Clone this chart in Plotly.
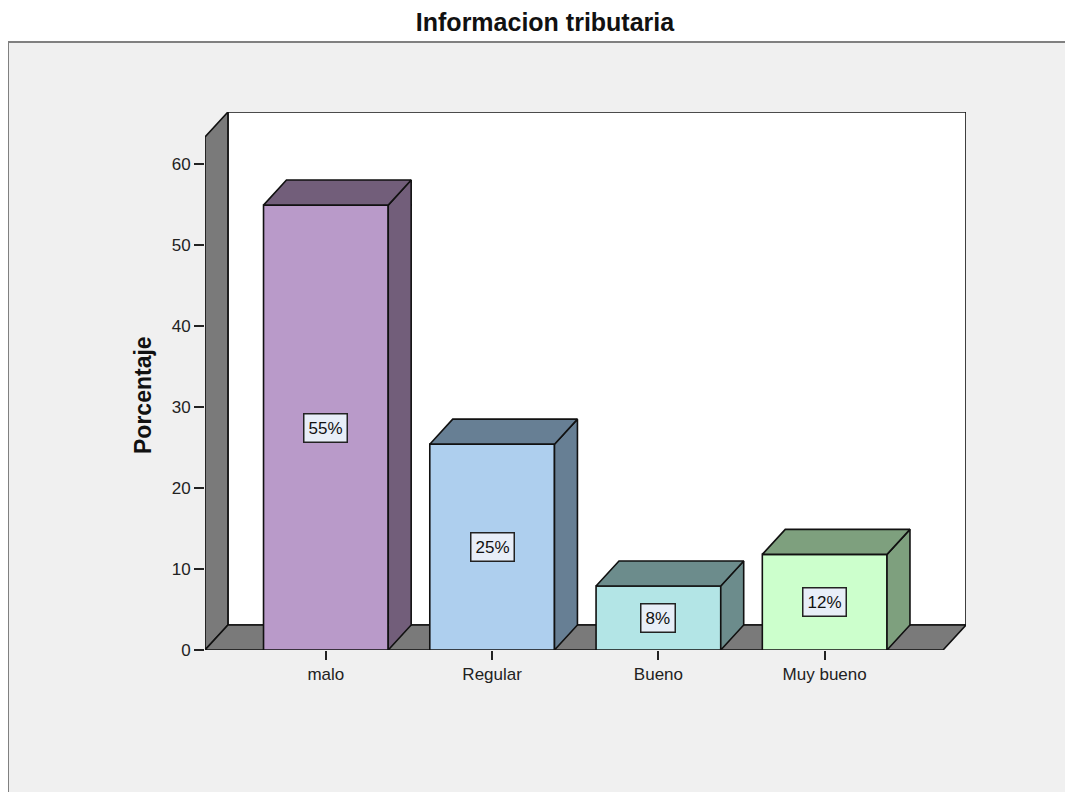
import plotly.graph_objects as go

# ---- data ----
categories = ["malo", "Regular", "Bueno", "Muy bueno"]
percentages = [54.9, 25.4, 7.9, 11.8]
labels = ["55%", "25%", "8%", "12%"]
y_ticks = [0, 10, 20, 30, 40, 50, 60]

front_colors = ["#B99AC9", "#AECFEE", "#B3E5E6", "#CCFFCC"]
shade_colors = ["#725E7A", "#677F94", "#6C8C8C", "#7EA07E"]

# ---- geometry settings ----
BAR_W = 0.75
DX = 0.138      # 3D depth (x, data units)
DY = 3.09       # 3D depth (y, data units)
X0, X1 = -0.727, 3.712
WALL_TOP = 63.3
WALL_COLOR = "#7A7A7A"
FONT = "Liberation Sans, Arial, sans-serif"

fig = go.Figure()

def poly(xs, ys, fill):
    fig.add_trace(go.Scatter(
        x=xs + [xs[0]], y=ys + [ys[0]], mode="lines", fill="toself",
        fillcolor=fill, line=dict(color="#111111", width=1.6),
        hoverinfo="skip", showlegend=False))

# back wall, left wall, floor
poly([X0 + DX, X1 + DX, X1 + DX, X0 + DX], [DY, DY, WALL_TOP + DY, WALL_TOP + DY], "#FFFFFF")
poly([X0, X0 + DX, X0 + DX, X0], [0, DY, WALL_TOP + DY, WALL_TOP], WALL_COLOR)
poly([X0, X1, X1 + DX, X0 + DX], [0, 0, DY, DY], WALL_COLOR)

xs_idx = list(range(len(categories)))

# bars: front, side and top faces
for i, v in enumerate(percentages):
    l, r = i - BAR_W / 2, i + BAR_W / 2
    poly([l, r, r, l], [0, 0, v, v], front_colors[i])
    poly([r, r + DX, r + DX, r], [0, DY, v + DY, v], shade_colors[i])
    poly([l, r, r + DX, l + DX], [v, v, v + DY, v + DY], shade_colors[i])

# value labels
for i, (v, t) in enumerate(zip(percentages, labels)):
    fig.add_annotation(x=i, y=v / 2, text=t, showarrow=False,
                       font=dict(family=FONT, size=17, color="#111111"),
                       bgcolor="#E8EEF8", bordercolor="#222222", borderwidth=1.5, borderpad=4)

# gray chart frame background
fig.add_shape(type="rect", xref="paper", yref="paper",
              x0=(8 - 205) / 761, x1=1.3, y0=-0.4, y1=(650 - 42) / 538,
              fillcolor="#F0F0F0", line=dict(color="#808080", width=2), layer="below")

fig.add_annotation(xref="paper", yref="paper", x=(143 - 205) / 761, y=(650 - 395) / 538,
                   xanchor="center", yanchor="middle",
                   text="<b>Porcentaje</b>", textangle=-90, showarrow=False,
                   font=dict(family=FONT, size=23, color="#111111"))

W, H = 1065, 784
fig.update_layout(
    width=W, height=H,
    margin=dict(l=197, r=W - 958, t=104, b=H - 642),
    paper_bgcolor="#FFFFFF", plot_bgcolor="rgba(0,0,0,0)",
    title=dict(text="<b>Informacion tributaria</b>", x=537 / W, xanchor="center",
               y=1 - 14 / H, yanchor="middle",
               font=dict(family=FONT, size=25, color="#111111")),
    xaxis=dict(range=[X0, X1 + DX], tickvals=xs_idx, ticktext=categories,
               showgrid=False, zeroline=False, showline=False,
               ticks="outside", ticklen=9, tickwidth=1.5, tickcolor="#222222",
               tickfont=dict(family=FONT, size=17, color="#222222")),
    yaxis=dict(range=[0, WALL_TOP + DY], tickvals=y_ticks,
               showgrid=False, zeroline=False, showline=False,
               ticks="outside", ticklen=10, tickwidth=1.5, tickcolor="#222222",
               tickfont=dict(family=FONT, size=17, color="#222222")),
)

fig.write_html("out.html")
